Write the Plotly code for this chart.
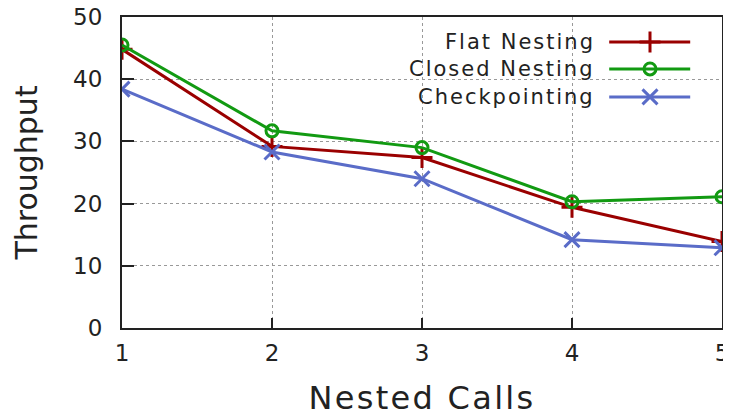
import plotly.graph_objects as go

nested_calls = [1, 2, 3, 4, 5]
flat_nesting = [44.8, 29.2, 27.4, 19.4, 13.9]
closed_nesting = [45.5, 31.7, 29.0, 20.3, 21.1]
checkpointing = [38.4, 28.3, 24.0, 14.2, 12.9]
series_names = ["Flat Nesting", "Closed Nesting", "Checkpointing"]
y_ticks = [0, 10, 20, 30, 40, 50]

colors = ["#9a0000", "#129a12", "#5a6cc8"]
symbols = ["cross-thin-open", "circle-open", "x-thin-open"]
msizes = [15, 12, 15]
series = [flat_nesting, closed_nesting, checkpointing]

FONT = "DejaVu Sans"
fig = go.Figure()
for name, ys, c, s, ms in zip(series_names, series, colors, symbols, msizes):
    fig.add_trace(go.Scatter(
        x=nested_calls, y=ys, name=name, mode="lines+markers",
        line=dict(color=c, width=3),
        marker=dict(symbol=s, size=ms, color=c, line=dict(color=c, width=3)),
        showlegend=False,
    ))

# custom gnuplot-style legend (text right-aligned, sample on right)
leg_y = [0.920, 0.833, 0.743]
for name, c, s, ms, ly in zip(series_names, colors, symbols, msizes, leg_y):
    fig.add_trace(go.Scatter(
        x=[0.812, 0.947], y=[ly, ly], mode="lines", xaxis="x2", yaxis="y2",
        line=dict(color=c, width=3), showlegend=False, hoverinfo="skip"))
    fig.add_trace(go.Scatter(
        x=[0.88], y=[ly], mode="markers", xaxis="x2", yaxis="y2",
        marker=dict(symbol=s, size=ms, color=c, line=dict(color=c, width=3)),
        showlegend=False, hoverinfo="skip"))
    fig.add_annotation(x=0.791, y=ly, xref="x2", yref="y2",
                       text='<span style="letter-spacing:2px">%s</span>' % name,
                       showarrow=False, xanchor="right", yanchor="middle",
                       font=dict(family=FONT, size=21, color="#222"))

fig.update_layout(
    width=723, height=411,
    margin=dict(l=114, r=9, t=9, b=91),
    paper_bgcolor="white", plot_bgcolor="white",
    font=dict(family=FONT, size=22, color="#222"),
    xaxis=dict(range=[1, 5], tickvals=nested_calls, ticks="inside", ticklen=10,
               tickwidth=2, tickcolor="#222", automargin=False,
               showline=True, linecolor="#222", linewidth=2, mirror=True,
               showgrid=True, gridcolor="#999", griddash="dot", gridwidth=1,
               zeroline=False, ticklabelstandoff=3, ticklabeloverflow="allow",
               tickfont=dict(family=FONT, size=23),
               title=dict(text='<span style="letter-spacing:2.3px">Nested Calls</span>',
                          font=dict(family=FONT, size=32), standoff=22)),
    yaxis=dict(range=[0, 50], tickvals=y_ticks, ticks="inside", ticklen=12,
               tickwidth=2, tickcolor="#222", automargin=False,
               showline=True, linecolor="#222", linewidth=2, mirror=True,
               showgrid=True, gridcolor="#999", griddash="dot", gridwidth=1,
               zeroline=False, ticklabelstandoff=13, ticklabeloverflow="allow",
               tickfont=dict(family=FONT, size=23),
               title=dict(text="Throughput", font=dict(family=FONT, size=30), standoff=27)),
    xaxis2=dict(range=[0, 1], overlaying="x", visible=False, fixedrange=True),
    yaxis2=dict(range=[0, 1], overlaying="y", visible=False, fixedrange=True),
)

fig.write_html("out.html")
